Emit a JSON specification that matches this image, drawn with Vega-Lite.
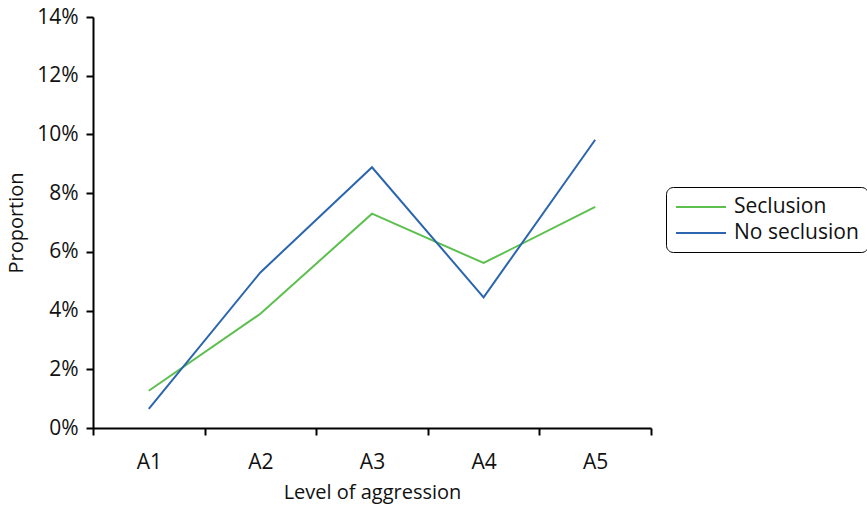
{
  "$schema": "https://vega.github.io/schema/vega-lite/v6.json",
  "width": 558,
  "height": 411,
  "autosize": {"type": "none"},
  "padding": {"left": 93, "top": 17, "right": 216, "bottom": 83},
  "background": "white",
  "config": {
    "view": {"stroke": null},
    "font": "Open Sans",
    "axis": {"labelFont": "Open Sans", "titleFont": "Open Sans", "labelColor": "#111", "titleColor": "#111", "domainColor": "black", "tickColor": "black", "domainWidth": 2, "tickWidth": 2, "grid": false, "labelFontSize": 21, "titleFontSize": 20, "titleFontWeight": "normal"},
    "legend": {"strokeColor": "black", "cornerRadius": 7, "padding": 9, "rowPadding": 5, "labelFont": "Open Sans", "labelFontSize": 21, "labelColor": "#111", "symbolType": "M-2.5,0H2.5", "symbolStrokeWidth": 2, "symbolSize": 400, "symbolOffset": 15, "labelOffset": 22}
  },
  "data": {
    "values": [
      {"level": "A1", "group": "Seclusion", "p": 0.0127},
      {"level": "A2", "group": "Seclusion", "p": 0.0389},
      {"level": "A3", "group": "Seclusion", "p": 0.0730},
      {"level": "A4", "group": "Seclusion", "p": 0.0562},
      {"level": "A5", "group": "Seclusion", "p": 0.0753},
      {"level": "A1", "group": "No seclusion", "p": 0.0065},
      {"level": "A2", "group": "No seclusion", "p": 0.0530},
      {"level": "A3", "group": "No seclusion", "p": 0.0888},
      {"level": "A4", "group": "No seclusion", "p": 0.0445},
      {"level": "A5", "group": "No seclusion", "p": 0.0982}
    ]
  },
  "mark": {"type": "line", "strokeWidth": 2},
  "encoding": {
    "x": {
      "field": "level", "type": "nominal",
      "scale": {"type": "band", "paddingInner": 0, "paddingOuter": 0},
      "axis": {"title": "Level of aggression", "labelAngle": 0, "tickBand": "extent", "tickSize": 7, "labelPadding": 16, "titlePadding": 10}
    },
    "y": {
      "field": "p", "type": "quantitative",
      "scale": {"domain": [0, 0.14], "nice": false},
      "axis": {"title": "Proportion", "values": [0, 0.02, 0.04, 0.06, 0.08, 0.1, 0.12, 0.14], "format": ".0%", "tickSize": 7, "labelPadding": 8, "titlePadding": 10}
    },
    "color": {
      "field": "group", "type": "nominal",
      "scale": {"domain": ["Seclusion", "No seclusion"], "range": ["#5cbf4e", "#2b65ae"]},
      "legend": {"title": null, "orient": "none", "legendX": 573, "legendY": 170}
    }
  }
}
